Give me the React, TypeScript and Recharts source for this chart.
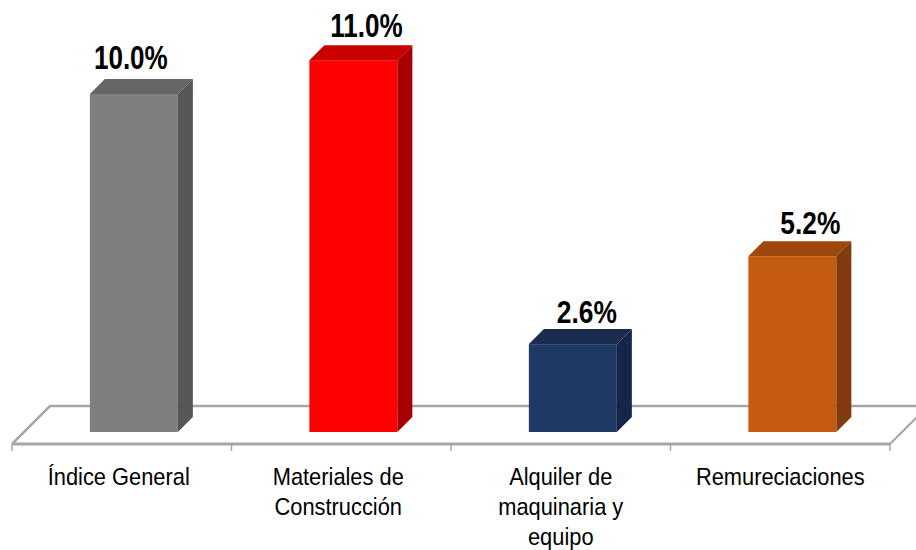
import { Bar, BarChart, Cell, LabelList, XAxis, YAxis, usePlotArea } from "recharts";

const categories = ["Índice General", "Materiales de\nConstrucción", "Alquiler de\nmaquinaria y\nequipo", "Remureciaciones"];
const values = [10.0, 11.0, 2.6, 5.2];

const frontColors = ["#7f7f7f", "#ff0000", "#203864", "#c55a11"];
const topColors = ["#666666", "#c80000", "#1a2d50", "#9e480e"];
const sideColors = ["#565656", "#a80000", "#15264a", "#823b0c"];

// hand-placed data labels in the original: [dx, dy from the top of the box, font size, x squeeze]
const labelPlacement = [
	[-3, -10, 33, 0.79],
	[13, -8, 33, 0.79],
	[14, -6, 31, 0.85],
	[18, -7, 31, 0.85],
];
const tickNudge = [-3, -3, 0, 0];

const DEPTH = 15;
const SHIFT = 12;
const FLOOR = "#a6a6a6";
const FONT = '"Liberation Sans", Arial, sans-serif';

const data = categories.map((name, i) => ({ name, value: values[i] }));

function Box(props: any) {
	const { x, y, width, height, index } = props;
	const l = x + SHIFT;
	const r = l + width;
	const t = y - SHIFT;
	const b = t + height;
	return (
		<g>
			<rect x={l} y={t} width={width} height={height} fill={frontColors[index]} />
			<polygon
				points={`${l},${t} ${l + DEPTH},${t - DEPTH} ${r + DEPTH},${t - DEPTH} ${r},${t}`}
				fill={topColors[index]}
			/>
			<polygon
				points={`${r},${t} ${r + DEPTH},${t - DEPTH} ${r + DEPTH},${b - DEPTH} ${r},${b}`}
				fill={sideColors[index]}
			/>
		</g>
	);
}

function Floor() {
	const area = usePlotArea();
	if (!area) return null;
	const left = area.x;
	const right = area.x + area.width;
	const y = area.y + area.height;
	const band = area.width / categories.length;
	return (
		<g stroke={FLOOR} fill="none">
			<polyline points={`${left},${y} ${left + 38},${y - 38} ${right + 38},${y - 38}`} strokeWidth={2.5} />
			<line x1={right} y1={y} x2={right + 38} y2={y - 38} strokeWidth={2} />
			<line x1={left} y1={y} x2={right} y2={y} strokeWidth={3} />
			{categories.map((_, i) => (
				<line key={i} x1={left + band * i} y1={y} x2={left + band * i} y2={y + 7} strokeWidth={1.5} />
			))}
			<line x1={right} y1={y} x2={right} y2={y + 7} strokeWidth={1.5} />
		</g>
	);
}

function CategoryTick({ x, y, payload, index }: any) {
	const lines = String(payload.value).split("\n");
	return (
		<text
			transform={`translate(${x + tickNudge[index]} 0) scale(0.91 1)`}
			textAnchor="middle"
			fontFamily={FONT}
			fontSize={24}
			fill="#000"
		>
			{lines.map((line, i) => (
				<tspan key={i} x={0} y={y + 33 + i * 30}>
					{line}
				</tspan>
			))}
		</text>
	);
}

function ValueLabel({ x, y, width, index, value }: any) {
	const [dx, dy, size, squeeze] = labelPlacement[index];
	return (
		<text
			transform={`translate(${x + SHIFT + width / 2 + dx} ${y - SHIFT - DEPTH + dy}) scale(${squeeze} 1)`}
			textAnchor="middle"
			fontFamily={FONT}
			fontWeight="bold"
			fontSize={size}
			fill="#000"
		>
			{`${Number(value).toFixed(1)}%`}
		</text>
	);
}

export default function App() {
	return (
		<div style={{ position: "absolute", left: 0, top: 0, width: 916, height: 550, overflow: "hidden", background: "#fff" }}>
			<BarChart
				width={916}
				height={550}
				data={data}
				barCategoryGap="30%"
				margin={{ top: 4.6, right: 26, bottom: 0, left: 12 }}
				style={{ overflow: "visible" }}
			>
				<Floor />
				<XAxis dataKey="name" axisLine={false} tickLine={false} tick={<CategoryTick />} interval={0} height={106} />
				<YAxis hide domain={[0, 13]} />
				<Bar dataKey="value" shape={<Box />} isAnimationActive={false}>
					{data.map((d, i) => (
						<Cell key={d.name} fill={frontColors[i]} />
					))}
					<LabelList dataKey="value" content={<ValueLabel />} />
				</Bar>
			</BarChart>
		</div>
	);
}
